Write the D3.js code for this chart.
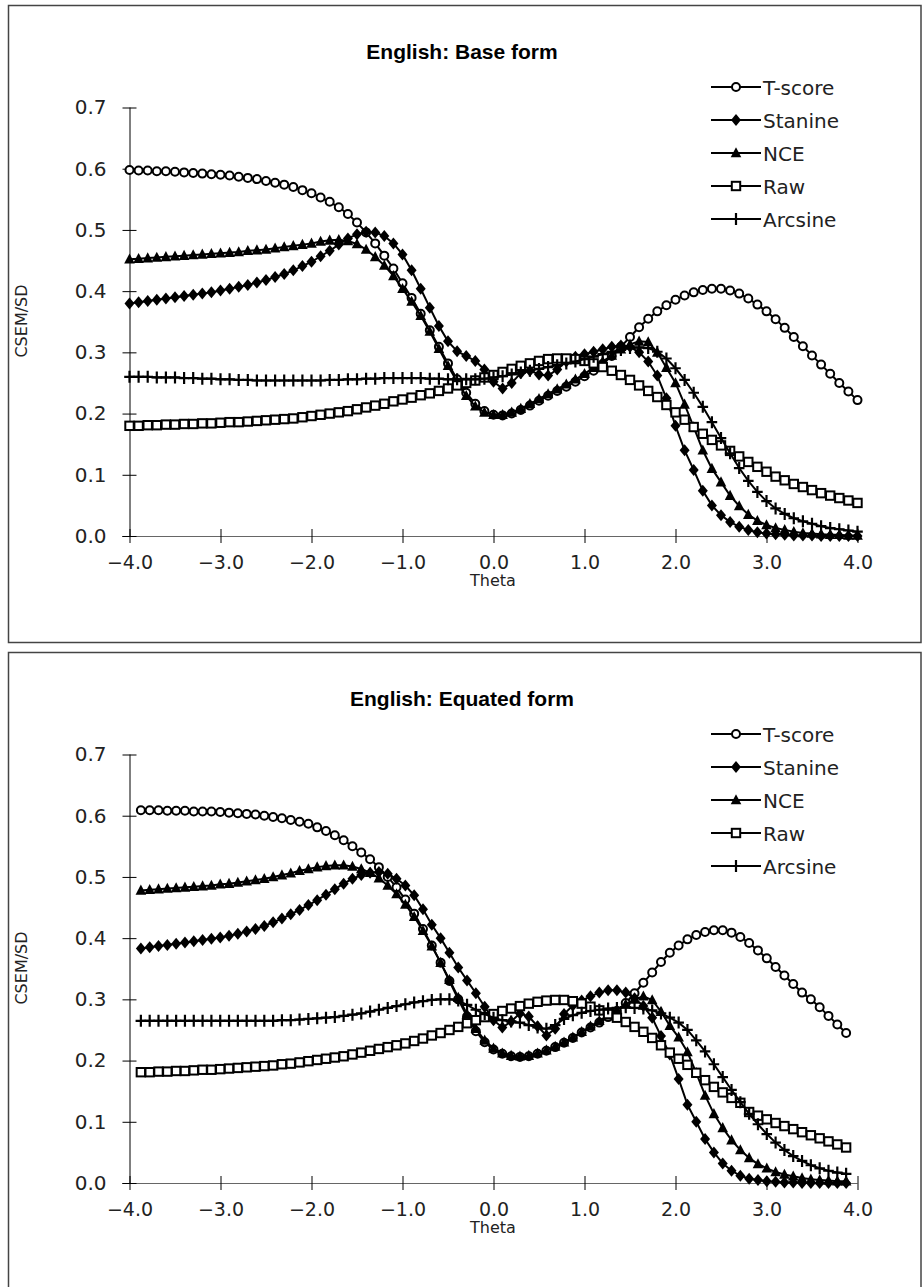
<!DOCTYPE html>
<html>
<head>
<meta charset="utf-8">
<script src="https://cdn.jsdelivr.net/npm/d3@7"></script>
<style>
  body { margin: 0; background: #fff; }
  text { font-family: "DejaVu Sans", sans-serif; fill: #222; }
</style>
</head>
<body>
<div id="chart"></div>
<script>
// ---- data ----
var seriesNames = ["T-score", "Stanine", "NCE", "Raw", "Arcsine"];
var xTicks = [-4, -3, -2, -1, 0, 1, 2, 3, 4];
var yTicks = [0, 0.1, 0.2, 0.3, 0.4, 0.5, 0.6, 0.7];

// theta grid: base form -4.0..4.0 by 0.1, equated form is slightly narrower
var thetaBase = d3.range(-40, 41).map(i => i / 10);
var thetaEquated = thetaBase.map(t => t * 0.96875);

var baseTscore = [
  .598,.597,.597,.596,.596,.595,.594,.593,.592,.591,
  .590,.589,.587,.585,.583,.580,.577,.574,.570,.565,
  .560,.553,.546,.537,.526,.512,.496,.478,.458,.437,
  .413,.389,.363,.336,.309,.282,.256,.234,.216,.204,
  .198,.197,.200,.206,.213,.221,.229,.237,.244,.252,
  .261,.270,.281,.294,.309,.325,.341,.355,.367,.377,
  .386,.393,.398,.402,.404,.404,.401,.396,.388,.378,
  .367,.354,.340,.325,.310,.295,.280,.265,.250,.236,.222];
var baseStanine = [
  .380,.382,.384,.386,.388,.390,.392,.394,.396,.398,
  .401,.404,.407,.410,.414,.418,.423,.428,.434,.441,
  .448,.457,.466,.476,.486,.493,.497,.496,.490,.478,
  .460,.434,.404,.373,.343,.318,.302,.294,.286,.272,
  .252,.241,.250,.266,.270,.264,.262,.272,.285,.293,
  .297,.301,.305,.309,.311,.309,.300,.285,.262,.225,
  .180,.140,.108,.074,.050,.034,.023,.015,.010,.006,
  .004,.003,.002,.001,.001,.001,0,0,0,0,0];
var baseNCE = [
  .452,.453,.454,.455,.456,.457,.458,.459,.460,.461,
  .462,.463,.464,.466,.467,.468,.470,.472,.474,.476,
  .478,.481,.483,.484,.482,.477,.468,.456,.442,.425,
  .404,.383,.360,.334,.306,.278,.252,.229,.212,.202,
  .198,.198,.202,.208,.216,.224,.232,.240,.248,.256,
  .265,.275,.285,.295,.305,.313,.318,.317,.300,.275,
  .250,.215,.178,.140,.110,.088,.066,.049,.035,.025,
  .018,.013,.010,.007,.005,.004,.003,.002,.002,.001,.001];
var baseRaw = [
  .180,.180,.181,.181,.182,.182,.183,.183,.184,.184,
  .185,.186,.186,.187,.188,.189,.190,.191,.192,.194,
  .196,.198,.200,.202,.204,.207,.210,.213,.216,.220,
  .223,.226,.230,.233,.237,.241,.246,.250,.254,.259,
  .263,.268,.273,.278,.282,.286,.289,.290,.290,.289,
  .286,.282,.276,.270,.263,.255,.246,.237,.227,.214,
  .202,.190,.178,.167,.157,.148,.139,.130,.121,.113,
  .105,.097,.091,.085,.080,.075,.070,.066,.062,.058,.054];
var baseArcsine = [
  .260,.260,.260,.259,.259,.259,.258,.258,.257,.257,
  .256,.256,.255,.255,.254,.254,.254,.254,.254,.254,
  .254,.254,.255,.255,.256,.256,.257,.257,.258,.258,
  .258,.258,.258,.257,.257,.256,.256,.256,.256,.257,
  .259,.261,.264,.267,.270,.273,.276,.279,.282,.285,
  .289,.293,.297,.301,.304,.307,.308,.307,.301,.290,
  .274,.255,.234,.211,.186,.160,.135,.111,.090,.072,
  .057,.045,.036,.029,.024,.020,.016,.013,.011,.009,.007];

var eqTscore = [
  .609,.609,.609,.608,.608,.608,.607,.607,.607,.606,
  .605,.604,.603,.602,.600,.598,.596,.593,.590,.587,
  .581,.575,.568,.560,.550,.540,.529,.516,.500,.483,
  .463,.440,.415,.388,.360,.330,.300,.272,.248,.230,
  .218,.211,.207,.206,.207,.211,.216,.222,.229,.237,
  .246,.254,.262,.271,.281,.294,.310,.327,.344,.361,
  .376,.388,.398,.405,.410,.413,.413,.409,.402,.392,
  .380,.367,.353,.339,.325,.311,.300,.287,.273,.259,.245];
var eqStanine = [
  .383,.385,.387,.389,.391,.393,.395,.397,.399,.401,
  .404,.407,.411,.415,.420,.426,.432,.439,.446,.454,
  .462,.471,.480,.489,.497,.503,.507,.508,.505,.497,
  .486,.470,.447,.422,.400,.376,.352,.331,.310,.288,
  .266,.254,.264,.277,.272,.256,.241,.252,.276,.290,
  .298,.305,.311,.315,.315,.311,.302,.289,.270,.240,
  .210,.170,.128,.100,.072,.050,.032,.020,.012,.007,
  .005,.003,.002,.001,.001,0,0,0,0,0,0];
var eqNCE = [
  .478,.479,.480,.481,.482,.483,.484,.485,.486,.488,
  .489,.491,.493,.495,.497,.500,.503,.506,.510,.513,
  .516,.518,.519,.519,.517,.513,.507,.498,.486,.472,
  .455,.435,.412,.387,.360,.332,.303,.276,.252,.233,
  .220,.212,.208,.207,.208,.212,.217,.223,.230,.238,
  .247,.256,.265,.274,.283,.292,.300,.305,.299,.280,
  .257,.238,.214,.180,.143,.113,.090,.070,.054,.041,
  .031,.024,.018,.014,.011,.008,.006,.005,.004,.003,.003];
var eqRaw = [
  .181,.181,.182,.182,.183,.183,.184,.185,.185,.186,
  .187,.188,.189,.190,.191,.192,.194,.195,.197,.199,
  .201,.203,.205,.207,.210,.213,.216,.219,.222,.225,
  .228,.232,.236,.241,.245,.250,.255,.261,.266,.271,
  .276,.281,.285,.289,.293,.296,.298,.299,.299,.297,
  .293,.288,.282,.276,.270,.263,.255,.247,.237,.225,
  .213,.203,.193,.180,.168,.157,.148,.139,.131,.116,
  .110,.104,.098,.093,.088,.083,.078,.073,.068,.063,.058];
var eqArcsine = [
  .265,.265,.265,.265,.265,.265,.265,.265,.265,.265,
  .265,.265,.265,.265,.265,.265,.266,.266,.267,.268,
  .269,.270,.271,.273,.275,.277,.280,.283,.286,.289,
  .292,.295,.297,.299,.300,.300,.298,.291,.283,.276,
  .270,.266,.264,.262,.258,.254,.252,.258,.268,.274,
  .278,.281,.283,.285,.286,.287,.286,.285,.282,.277,
  .270,.262,.250,.233,.215,.194,.173,.152,.132,.113,
  .096,.080,.066,.054,.044,.036,.029,.024,.020,.017,.015];

var panels = [
  { title: "English: Base form", theta: thetaBase,
    values: [baseTscore, baseStanine, baseNCE, baseRaw, baseArcsine] },
  { title: "English: Equated form", theta: thetaEquated,
    values: [eqTscore, eqStanine, eqNCE, eqRaw, eqArcsine] }
];

// ---- drawing ----
var W = 922, H = 1287, panelStep = 647;

var svg = d3.select("#chart").append("svg")
    .attr("width", W)
    .attr("height", H);

var x = d3.scaleLinear().domain([-4, 4]).range([129.5, 857.5]);
var y = d3.scaleLinear().domain([0, 0.7]).range([536, 107.5]);

var fmtX = v => (v < 0 ? "\u2212" : "") + Math.abs(v).toFixed(1);

// one marker per series
function drawMarker(sel, kind) {
    if (kind === 0) {
        sel.append("circle").attr("r", 4)
            .attr("fill", "#fff").attr("stroke", "#000").attr("stroke-width", 2);
    } else if (kind === 1) {
        sel.append("path").attr("d", "M0,-6L5,0L0,6L-5,0Z").attr("fill", "#000");
    } else if (kind === 2) {
        sel.append("path").attr("d", "M0,-5.8L5.3,4.3L-5.3,4.3Z").attr("fill", "#000");
    } else if (kind === 3) {
        sel.append("rect").attr("x", -4.2).attr("y", -4.2).attr("width", 8.4).attr("height", 8.4)
            .attr("fill", "#fff").attr("stroke", "#000").attr("stroke-width", 2);
    } else {
        sel.append("path").attr("d", "M-5.3,0H5.3M0,-6V6")
            .attr("stroke", "#000").attr("stroke-width", 2.2);
    }
}

panels.forEach(function (p, pi) {
    var g = svg.append("g").attr("transform", "translate(0," + (pi * panelStep) + ")");

    // frame
    g.append("rect")
        .attr("x", 8.5).attr("y", 5.5)
        .attr("width", 912.5).attr("height", 637)
        .attr("fill", "none").attr("stroke", "#444").attr("stroke-width", 1.5);

    g.append("text")
        .attr("x", 462).attr("y", 59)
        .attr("text-anchor", "middle")
        .style("font-family", "'Liberation Sans', Arial, sans-serif")
        .style("font-weight", "bold")
        .style("font-size", "21px")
        .style("fill", "#000")
        .text(p.title);

    // x axis (ticks cross the line)
    var xAxis = g.append("g")
        .attr("transform", "translate(0," + y(0) + ")")
        .call(d3.axisBottom(x).tickValues(xTicks).tickSize(7).tickPadding(13).tickFormat(fmtX));
    xAxis.select(".domain").attr("d", "M122," + 0.5 + "H857.5").attr("stroke", "#666");
    xAxis.selectAll(".tick line").attr("y1", -7).attr("stroke", "#000");
    xAxis.selectAll(".tick text").style("font-size", "19px").style("fill", "#222");

    // y axis
    var yAxis = g.append("g")
        .attr("transform", "translate(" + x(-4) + ",0)")
        .call(d3.axisLeft(y).tickValues(yTicks).tickSize(7).tickPadding(16).tickFormat(d3.format(".1f")));
    yAxis.select(".domain").attr("d", "M0.5," + y(0) + "V" + y(0.7)).attr("stroke", "#000");
    yAxis.selectAll(".tick line").attr("x2", 7).attr("x1", -7).attr("stroke", "#000");
    yAxis.selectAll(".tick text").style("font-size", "20px").style("fill", "#222");
    g.selectAll(".tick text").style("font-family", "'DejaVu Sans', sans-serif");

    g.append("text")
        .attr("transform", "translate(27,321) rotate(-90)")
        .attr("text-anchor", "middle")
        .style("font-size", "16px")
        .text("CSEM/SD");

    g.append("text")
        .attr("x", 493).attr("y", 586)
        .attr("text-anchor", "middle")
        .style("font-size", "16px")
        .text("Theta");

    var line = d3.line()
        .x((d, i) => x(p.theta[i]))
        .y(d => y(d));

    p.values.forEach(function (vals, si) {
        g.append("path")
            .datum(vals)
            .attr("fill", "none")
            .attr("stroke", "#000")
            .attr("stroke-width", 2)
            .attr("d", line);

        g.append("g").selectAll("g")
            .data(vals)
            .join("g")
            .attr("transform", (d, i) => "translate(" + x(p.theta[i]) + "," + y(d) + ")")
            .each(function () { drawMarker(d3.select(this), si); });
    });

    // legend
    var leg = g.append("g");
    seriesNames.forEach(function (name, si) {
        var ly = 87 + si * 33;
        var row = leg.append("g").attr("transform", "translate(0," + ly + ")");
        row.append("line").attr("x1", 711).attr("x2", 761)
            .attr("stroke", "#000").attr("stroke-width", 2.2);
        drawMarker(row.append("g").attr("transform", "translate(736,0)"), si);
        row.append("text").attr("x", 763).attr("y", 7.5)
            .style("font-size", "20px")
            .text(name);
    });
});
</script>
</body>
</html>
